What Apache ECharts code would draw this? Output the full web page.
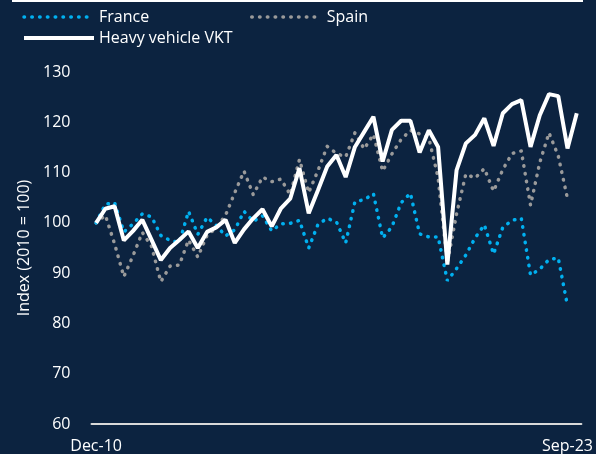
<!DOCTYPE html>
<html>
<head>
<meta charset="utf-8">
<script src="https://cdn.jsdelivr.net/npm/echarts@6/dist/echarts.min.js"></script>
<style>
html,body{margin:0;padding:0;background:#0c2340;}
#chart{width:596px;height:454px;}
</style>
</head>
<body>
<div id="chart"></div>
<script>
const categories = ['Dec-10','Mar-11','Jun-11','Sep-11','Dec-11','Mar-12','Jun-12','Sep-12','Dec-12','Mar-13','Jun-13','Sep-13','Dec-13','Mar-14','Jun-14','Sep-14','Dec-14','Mar-15','Jun-15','Sep-15','Dec-15','Mar-16','Jun-16','Sep-16','Dec-16','Mar-17','Jun-17','Sep-17','Dec-17','Mar-18','Jun-18','Sep-18','Dec-18','Mar-19','Jun-19','Sep-19','Dec-19','Mar-20','Jun-20','Sep-20','Dec-20','Mar-21','Jun-21','Sep-21','Dec-21','Mar-22','Jun-22','Sep-22','Dec-22','Mar-23','Jun-23','Sep-23','Dec-23'];
const shownLabels = ['Dec-10','Sep-23'];
const france = [100,103.7,104,98.2,99.8,101.8,101.2,97.5,96.5,96.1,102.3,97.7,101.1,99.5,97.4,98.6,102.3,100.3,101.4,98.4,99.8,99.9,100.5,95.0,99.7,100.9,100.2,96.0,104.2,104.6,105.8,97.0,99.2,104.0,105.9,97.8,97.2,97.2,88.5,90.9,93.6,97.0,99.6,93.8,99.1,100.5,100.9,89.6,90.8,92.7,93.0,83.5];
const spain = [100,101.5,95.8,89.3,93.5,98.1,95.3,88.3,91.4,91.6,96.6,93.2,97.5,99.0,101.5,106.0,110.3,105.6,109.1,108.2,108.7,105.6,112.6,106.0,110.4,115.2,113.8,113.1,117.9,114.7,117.6,110.3,113.7,116.6,118.4,117.7,116.8,109.0,92.0,101.8,109.7,108.9,110.8,106.3,110.6,113.8,114.3,103.5,112.0,117.9,113.3,104.8];
const vkt = [100,102.8,103.3,96.5,98.4,100.6,96.6,92.6,95.0,96.6,98.3,95.0,98.2,99.1,100.6,96.0,98.7,100.9,102.7,99.3,102.9,104.8,110.9,101.9,106.5,111.2,113.5,109.1,115.1,118.1,121.1,112.2,118.5,120.3,120.3,114.0,118.4,115.1,91.7,110.5,115.8,117.5,120.8,115.3,121.8,123.6,124.4,115.1,121.4,125.6,125.2,114.8,121.8];
const yTicks = [60,70,80,90,100,110,120,130];

const FONT = 'Open Sans';
const chart = echarts.init(document.getElementById('chart'), null, {renderer:'canvas'});
const dotted = {width:3.5, type:[0.5,7.3], cap:'round'};
const legendText = {color:'#ffffff', fontSize:16, fontFamily:FONT};
chart.setOption({
  backgroundColor:'#0c2340',
  animation:false,
  textStyle:{fontFamily:FONT},
  graphic:[{type:'line', shape:{x1:12,y1:1,x2:583,y2:1}, style:{stroke:'#ffffff', lineWidth:2}}],
  legend:[
    {data:['France','Heavy vehicle VKT'], orient:'vertical', left:17, top:4, itemWidth:70, itemHeight:14, itemGap:5,
     itemStyle:{opacity:0}, lineStyle:{width:'inherit'}, textStyle:legendText},
    {data:['Spain'], orient:'vertical', left:245, top:4, itemWidth:70, itemHeight:14,
     itemStyle:{opacity:0}, lineStyle:{width:'inherit'}, textStyle:legendText}
  ],
  grid:{left:91.5, right:14, top:72, bottom:30, containLabel:false},
  xAxis:{
    type:'category', data:categories, boundaryGap:true,
    axisLine:{show:true, lineStyle:{color:'#d9d9d9', width:2}},
    axisTick:{show:false},
    axisLabel:{color:'#ffffff', fontSize:16, fontFamily:FONT, margin:14,
      interval:function(i, v){ return shownLabels.indexOf(v) >= 0; }},
    splitLine:{show:false}
  },
  yAxis:{
    type:'value', min:yTicks[0], max:yTicks[yTicks.length-1], interval:10,
    name:'Index (2010 = 100)', nameLocation:'middle', nameGap:59, nameRotate:90,
    nameTextStyle:{color:'#ffffff', fontSize:16, fontFamily:FONT},
    axisLine:{show:false}, axisTick:{show:false}, splitLine:{show:false},
    axisLabel:{color:'#ffffff', fontSize:16, fontFamily:FONT, margin:21}
  },
  series:[
    {name:'France', type:'line', data:france, symbol:'none', lineStyle:Object.assign({color:'#00b0f0'}, dotted), itemStyle:{color:'#00b0f0'}, z:2},
    {name:'Spain', type:'line', data:spain, symbol:'none', lineStyle:Object.assign({color:'#9a9a9a'}, dotted), itemStyle:{color:'#9a9a9a'}, z:1},
    {name:'Heavy vehicle VKT', type:'line', data:vkt, symbol:'none', lineStyle:{color:'#ffffff', width:4}, itemStyle:{color:'#ffffff'}, z:3}
  ]
});
</script>
</body>
</html>
